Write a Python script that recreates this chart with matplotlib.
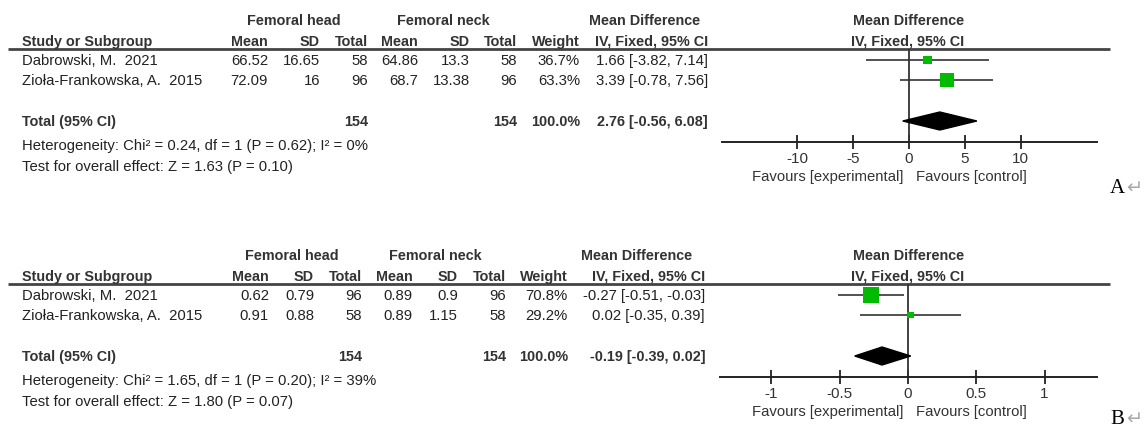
import matplotlib.pyplot as plt

plt.rcParams['font.family'] = ['Liberation Sans', 'DejaVu Sans']

W, H = 1145, 431

studies = ['Dabrowski, M.  2021', 'Zioła-Frankowska, A.  2015']

# A: femoral head vs femoral neck
a_head_mean = [66.52, 72.09]
a_head_sd = [16.65, 16]
a_head_n = [58, 96]
a_neck_mean = [64.86, 68.7]
a_neck_sd = [13.3, 13.38]
a_neck_n = [58, 96]
a_weight = [36.7, 63.3]
a_md = [1.66, 3.39]
a_lo = [-3.82, -0.78]
a_hi = [7.14, 7.56]
a_total = [2.76, -0.56, 6.08]
a_het = 'Heterogeneity: Chi² = 0.24, df = 1 (P = 0.62); I² = 0%'
a_z = 'Test for overall effect: Z = 1.63 (P = 0.10)'
a_ticks = [-10, -5, 0, 5, 10]
a_ticklabels = ['-10', '-5', '0', '5', '10']

# B
b_head_mean = [0.62, 0.91]
b_head_sd = [0.79, 0.88]
b_head_n = [96, 58]
b_neck_mean = [0.89, 0.89]
b_neck_sd = [0.9, 1.15]
b_neck_n = [96, 58]
b_weight = [70.8, 29.2]
b_md = [-0.27, 0.02]
b_lo = [-0.51, -0.35]
b_hi = [-0.03, 0.39]
b_total = [-0.19, -0.39, 0.02]
b_het = 'Heterogeneity: Chi² = 1.65, df = 1 (P = 0.20); I² = 39%'
b_z = 'Test for overall effect: Z = 1.80 (P = 0.07)'
b_ticks = [-1, -0.5, 0, 0.5, 1]
b_ticklabels = ['-1', '-0.5', '0', '0.5', '1']

TXT = '#222222'
HDR = '#333333'
GREEN = '#00bb00'
FS = 10.7
FS_B = 10.4

fig = plt.figure(figsize=(W / 100, H / 100), dpi=100)
bg = fig.add_axes([0, 0, 1, 1])
bg.set_xlim(0, W)
bg.set_ylim(H, 0)
bg.axis('off')


def t(x, y, s, ha='left', bold=False):
    bg.text(x, y, s, ha=ha, va='center', fontsize=FS_B if bold else FS,
            color=HDR if bold else TXT,
            fontweight='bold' if bold else 'normal')


def ci_text(md, lo, hi):
    return '{:.2f} [{:.2f}, {:.2f}]'.format(md, lo, hi)


def panel(y0, cols, grp, head_mean, head_sd, head_n, neck_mean, neck_sd,
          neck_n, weight, md, lo, hi, total, het, z,
          ax_x, lim, ticks, ticklabels, letter, letter_y):
    # y0 = header row, rows follow below
    c_hm, c_hs, c_hn, c_nm, c_ns, c_nn, c_w, c_ci = cols
    top = y0 + 8
    rows = [y0 + 19, y0 + 39]
    y_tot = y0 + 80
    axis_y = y0 + 101

    # group headers
    t(grp[0], y0 - 21, 'Femoral head', ha='center', bold=True)
    t(grp[1], y0 - 21, 'Femoral neck', ha='center', bold=True)
    t(grp[2], y0 - 21, 'Mean Difference', ha='center', bold=True)
    t(909, y0 - 21, 'Mean Difference', ha='center', bold=True)

    t(22, y0, 'Study or Subgroup', bold=True)
    for x, s in zip(cols, ['Mean', 'SD', 'Total', 'Mean', 'SD', 'Total',
                           'Weight', 'IV, Fixed, 95% CI']):
        t(x, y0, s, ha='right', bold=True)
    t(908, y0, 'IV, Fixed, 95% CI', ha='center', bold=True)
    bg.plot([8, 1110], [top, top], color='#444444', lw=2, solid_capstyle='butt')

    for i, y in enumerate(rows):
        t(22, y, studies[i])
        t(c_hm, y, '{:g}'.format(head_mean[i]), ha='right')
        t(c_hs, y, '{:g}'.format(head_sd[i]), ha='right')
        t(c_hn, y, str(head_n[i]), ha='right')
        t(c_nm, y, '{:g}'.format(neck_mean[i]), ha='right')
        t(c_ns, y, '{:g}'.format(neck_sd[i]), ha='right')
        t(c_nn, y, str(neck_n[i]), ha='right')
        t(c_w, y, '{:.1f}%'.format(weight[i]), ha='right')
        t(c_ci, y, ci_text(md[i], lo[i], hi[i]), ha='right')

    t(22, y_tot, 'Total (95% CI)', bold=True)
    t(c_hn, y_tot, str(sum(head_n)), ha='right', bold=True)
    t(c_nn, y_tot, str(sum(neck_n)), ha='right', bold=True)
    t(c_w, y_tot, '{:.1f}%'.format(sum(weight)), ha='right', bold=True)
    t(c_ci, y_tot, ci_text(*total), ha='right', bold=True)
    t(22, y_tot + 24, het)
    t(22, y_tot + 45, z)

    # forest plot
    x0, x1 = ax_x
    ax = fig.add_axes([x0 / W, 1 - axis_y / H, (x1 - x0) / W, (axis_y - top) / H])
    ax.set_xlim(-lim, lim)
    ax.set_ylim(axis_y, top)
    ax.patch.set_alpha(0)
    for s in ['top', 'left', 'right']:
        ax.spines[s].set_visible(False)
    ax.spines['bottom'].set_color('#222222')
    ax.spines['bottom'].set_linewidth(1.4)
    ax.set_yticks([])
    ax.set_xticks(ticks)
    ax.set_xticklabels(ticklabels)
    ax.tick_params(axis='x', direction='inout', length=10, width=1.3,
                   color='#222222', labelsize=11, labelcolor='#333333', pad=1.5)

    ax.axvline(0, color='#333333', lw=1.3)
    ax.hlines(rows, lo, hi, color='#333333', lw=1.2)
    sizes = [(w * 0.23 * 0.72) ** 2 for w in weight]
    ax.scatter(md, rows, marker='s', s=sizes, color=GREEN, zorder=3, linewidths=0)
    m, l, h = total
    ax.fill([l, m, h, m], [y_tot, y_tot - 9, y_tot, y_tot + 9], color='black', zorder=3)

    fy = axis_y + 34
    bg.text(903, fy, 'Favours [experimental]', ha='right', va='center',
            fontsize=FS, color='#333333')
    bg.text(916, fy, 'Favours [control]', ha='left', va='center',
            fontsize=FS, color='#333333')

    bg.text(1110, letter_y, letter, ha='left', va='center', fontsize=15,
            family='Liberation Serif', color='black')
    bg.text(1126, letter_y - 1, '↵', ha='left', va='center', fontsize=14,
            family='DejaVu Sans', color='#aaaaaa')


panel(42, [268, 320, 368, 418, 470, 517, 580, 708], [294, 443, 645],
      a_head_mean, a_head_sd, a_head_n, a_neck_mean, a_neck_sd, a_neck_n,
      a_weight, a_md, a_lo, a_hi, a_total, a_het, a_z,
      (721.5, 1096.5), 16.8, a_ticks, a_ticklabels, 'A', 189)

panel(277, [269, 314, 362, 413, 458, 506, 568, 705], [292, 435, 637],
      b_head_mean, b_head_sd, b_head_n, b_neck_mean, b_neck_sd, b_neck_n,
      b_weight, b_md, b_lo, b_hi, b_total, b_het, b_z,
      (719.5, 1096.5), 1.38, b_ticks, b_ticklabels, 'B', 420)

fig.savefig('out.png', dpi=100)
